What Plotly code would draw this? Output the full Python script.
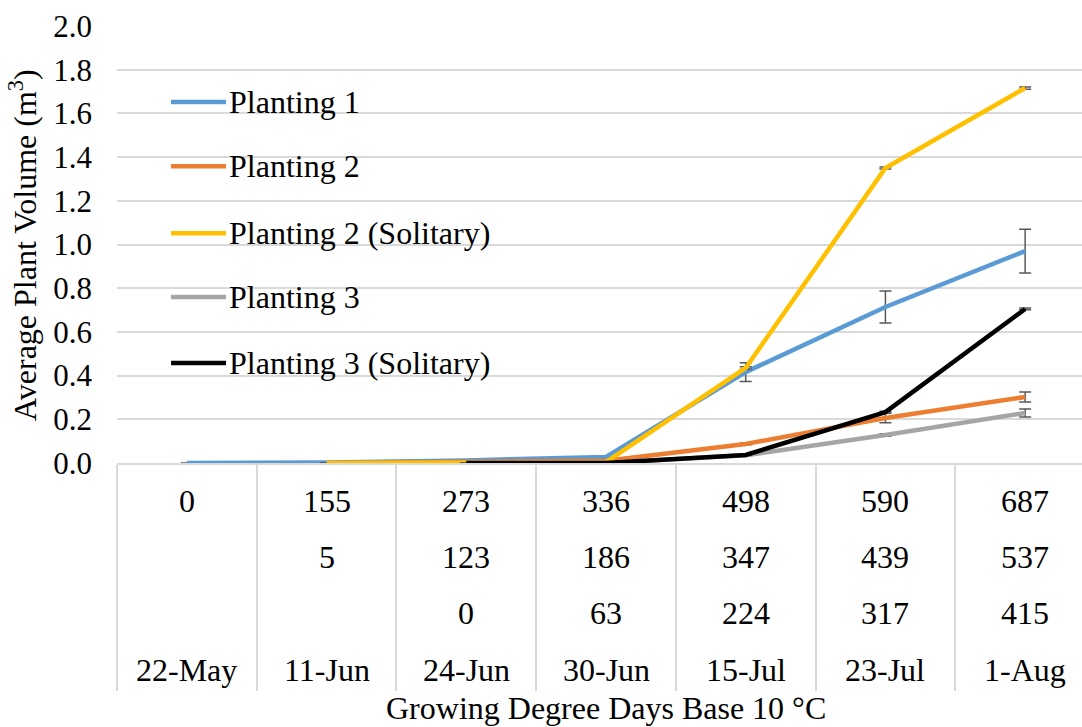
import plotly.graph_objects as go

# Sampling dates and growing degree days (base 10 °C) for each planting
dates = ["22-May", "11-Jun", "24-Jun", "30-Jun", "15-Jul", "23-Jul", "1-Aug"]
gdd_planting1 = ["0", "155", "273", "336", "498", "590", "687"]
gdd_planting2 = ["", "5", "123", "186", "347", "439", "537"]
gdd_planting3 = ["", "", "0", "63", "224", "317", "415"]

# Average plant volume (m³) per sampling date, with standard errors
p1_vol = [0.0, 0.002, 0.012, 0.028, 0.416, 0.714, 0.970]
p1_err = [0.0, 0.0, 0.0, 0.0, 0.043, 0.073, 0.100]

p2_vol = [0.0, 0.005, 0.010, 0.087, 0.206, 0.302]
p2_err = [0.0, 0.0, 0.0, 0.004, 0.022, 0.023]

p2s_vol = [0.0, 0.0, 0.004, 0.435, 1.350, 1.716]
p2s_err = [0.0, 0.0, 0.0, 0.006, 0.005, 0.005]

p3_vol = [0.0, 0.0, 0.035, 0.128, 0.229]
p3_err = [0.0, 0.0, 0.003, 0.006, 0.018]

p3s_vol = [0.0, 0.0, 0.037, 0.233, 0.705]
p3s_err = [0.0, 0.0, 0.002, 0.004, 0.004]

series = [
    ("Planting 1", 0, p1_vol, p1_err, "#5B9BD5"),
    ("Planting 2", 1, p2_vol, p2_err, "#ED7D31"),
    ("Planting 2 (Solitary)", 1, p2s_vol, p2s_err, "#FFC000"),
    ("Planting 3", 2, p3_vol, p3_err, "#A5A5A5"),
    ("Planting 3 (Solitary)", 2, p3s_vol, p3s_err, "#000000"),
]

FONT = "Liberation Serif"
GRID = "#D9D9D9"
TXT = dict(family=FONT, size=32, color="#000000")
TICK = dict(family=FONT, size=31, color="#000000")

fig = go.Figure()
for name, start, vol, err, color in series:
    xs = list(range(start, start + len(vol)))
    fig.add_trace(go.Scatter(
        x=xs, y=vol, name=name, mode="lines",
        line=dict(color=color, width=4.5),
        error_y=dict(type="data", array=err, visible=True,
                     color="#595959", thickness=1.5, width=6),
        showlegend=False,
    ))

x_min, x_max = -0.5, 6.407


def xpaper(v):
    return (v - x_min) / (x_max - x_min)


# Legend drawn inside the plot area
leg_y = [0.826, 0.679, 0.526, 0.380, 0.229]
for (name, _, _, _, color), ly in zip(series, leg_y):
    fig.add_shape(type="line", xref="paper", yref="paper",
                  x0=0.056, x1=0.113, y0=ly, y1=ly,
                  line=dict(color=color, width=4.5))
    fig.add_annotation(xref="paper", yref="paper", x=0.114, y=ly,
                       text=name, showarrow=False, xanchor="left",
                       yanchor="middle", font=TXT)

# Multi-level category table under the plot
rows = [(gdd_planting1, -0.087), (gdd_planting2, -0.215),
        (gdd_planting3, -0.343), (dates, -0.474)]
for labels, ry in rows:
    for i, lab in enumerate(labels):
        if lab:
            fig.add_annotation(xref="x", yref="paper", x=i, y=ry, text=lab,
                               showarrow=False, xanchor="center", yanchor="middle",
                               font=TXT)

fig.add_annotation(xref="paper", yref="paper", x=xpaper(3.0), y=-0.561,
                   text="Growing Degree Days Base 10 °C", showarrow=False,
                   xanchor="center", yanchor="middle", font=TXT)

fig.add_annotation(xref="paper", yref="paper", x=-0.098, y=0.5,
                   text="Average Plant Volume (m<sup>3</sup>)", showarrow=False,
                   textangle=-90, xanchor="center", yanchor="middle", font=TXT)

fig.update_layout(
    width=1082, height=727,
    margin=dict(l=117, r=0, t=26, b=264),
    paper_bgcolor="white", plot_bgcolor="white",
    xaxis=dict(
        range=[x_min, x_max], showgrid=False, zeroline=False,
        tickmode="array", tickvals=[i - 0.5 for i in range(len(dates) + 1)],
        ticktext=[""] * (len(dates) + 1),
        ticks="outside", ticklen=226, tickwidth=2, tickcolor=GRID,
        showline=True, linecolor=GRID, linewidth=2,
    ),
    yaxis=dict(
        range=[0, 2.0], dtick=0.2, tickformat=".1f",
        showgrid=True, gridcolor=GRID, gridwidth=1.5,
        zeroline=False, showline=False, ticks="",
        ticklabelstandoff=24,
        tickfont=TICK,
    ),
)

fig.write_html("out.html")
